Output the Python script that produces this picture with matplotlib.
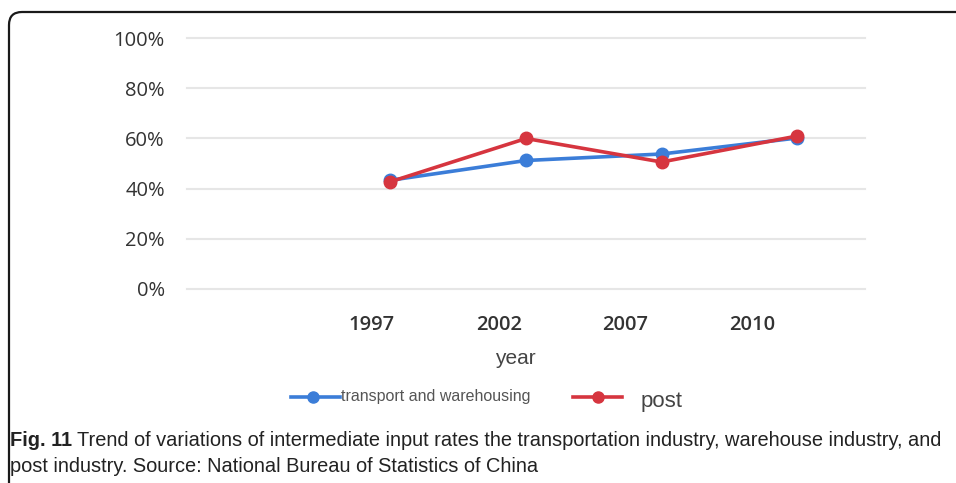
import matplotlib.pyplot as plt
from matplotlib.patches import FancyBboxPatch
from matplotlib.lines import Line2D
from matplotlib.transforms import IdentityTransform

years = ["1997", "2002", "2007", "2010"]
transport = [43.3, 51.2, 53.8, 60.2]
post = [42.7, 60.0, 50.6, 61.0]
yticks = [0, 20, 40, 60, 80, 100]

BLUE = "#3b7dd8"
RED = "#d6353f"
W, H = 956, 483

fig = plt.figure(figsize=(W / 100, H / 100), dpi=100)

# rounded frame, cut off by the right and bottom edges (pixel coords)
frame = FancyBboxPatch((9, -60), 1100, H - 12 + 60,
                       boxstyle="round,pad=0,rounding_size=13",
                       transform=IdentityTransform(), fill=False,
                       edgecolor="#1a1a1a", linewidth=1.6)
fig.patches.append(frame)

ax = fig.add_axes([187 / W, 1 - 288.5 / H, (865 - 187) / W, 250 / H])
x = list(range(len(years)))
ax.plot(x, transport, color=BLUE, lw=2.6, marker="o", ms=9, zorder=3)
ax.plot(x, post, color=RED, lw=2.6, marker="o", ms=9, zorder=4)

ax.set_xlim(-1.5, 3.5)
ax.set_ylim(0, 100)
ax.set_yticks(yticks)
ax.set_yticklabels([f"{v}%" for v in yticks], fontsize=14.5, color="#333333",
                   family="Open Sans")
ax.set_xticks(x)
ax.set_xticklabels([])
ax.tick_params(length=0)
ax.tick_params(axis="y", pad=16)
ax.grid(axis="y", color="#e6e6e6", lw=1.5)
for g in ax.yaxis.get_gridlines():
    g.set_clip_on(False)
ax.set_axisbelow(True)
for s in ax.spines.values():
    s.set_visible(False)

# year labels sit on a slightly narrower scale than the points
ax2 = ax.twiny()
ax2.set_xlim(-1.459, 3.888)
ax2.set_xticks(x)
ax2.set_xticklabels(years, fontsize=14.5, color="#333333", family="Open Sans",
                    fontweight="semibold")
ax2.xaxis.set_ticks_position("bottom")
ax2.xaxis.set_label_position("bottom")
ax2.tick_params(length=0, pad=19)
for s in ax2.spines.values():
    s.set_visible(False)

fig.text(515 / W, 1 - 358 / H, "year", ha="center", va="center",
         fontsize=15, color="#444444", family="Liberation Sans")

# legend drawn by hand to keep its odd spacing
ly = 1 - 397 / H
fig.add_artist(Line2D([291 / W, 340 / W], [ly, ly], color=BLUE, lw=2.6,
                      transform=fig.transFigure))
fig.add_artist(Line2D([313 / W], [ly], color=BLUE, marker="o", ms=8,
                      transform=fig.transFigure))
fig.text(341 / W, ly + 0.002, "transport and warehousing", ha="left", va="center",
         fontsize=11.5, color="#555555", family="Liberation Sans")
fig.add_artist(Line2D([573 / W, 622 / W], [ly, ly], color=RED, lw=2.6,
                      transform=fig.transFigure))
fig.add_artist(Line2D([598 / W], [ly], color=RED, marker="o", ms=8,
                      transform=fig.transFigure))
fig.text(641 / W, 1 - 402 / H, "post", ha="left", va="center",
         fontsize=16, color="#444444", family="Liberation Sans")

# caption, sized so the first line ends near x=943 like the original
cap_fam = ["Liberation Sans Narrow", "Liberation Sans"]
line1 = ("Trend of variations of intermediate input rates the transportation industry, "
         "warehouse industry, and")
line2 = "post industry. Source: National Bureau of Statistics of China"
size = 13.5
t1 = fig.text(10 / W, 1 - 441 / H, "Fig. 11", ha="left", va="center",
              fontweight="bold", fontsize=size, color="#222222", family=cap_fam)
t2 = fig.text(0, 1 - 441 / H, line1, ha="left", va="center",
              fontsize=size, color="#222222", family=cap_fam)
t3 = fig.text(10 / W, 1 - 466 / H, line2, ha="left", va="center",
              fontsize=size, color="#222222", family=cap_fam)
fig.canvas.draw()
r = fig.canvas.get_renderer()
total = t1.get_window_extent(r).width + 5 + t2.get_window_extent(r).width
size = size * 933 / total
for t in (t1, t2, t3):
    t.set_fontsize(size)
fig.canvas.draw()
x1 = t1.get_window_extent(r).x1
t2.set_x((x1 + 5) / W)

fig.savefig("out.png", dpi=100)
